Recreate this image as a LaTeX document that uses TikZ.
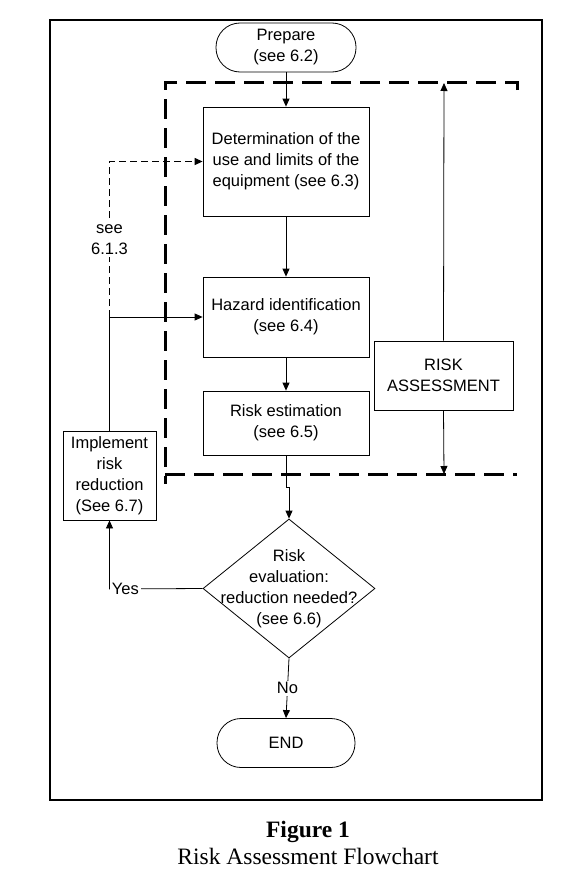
\documentclass[tikz,border=0pt]{standalone}
\usepackage{fontspec}
\setmainfont{Liberation Serif}
\setsansfont{Liberation Sans}
\usetikzlibrary{shapes.geometric,arrows.meta}

\begin{document}
\begin{tikzpicture}[x=1pt,y=-1pt,line width=0.8pt,
  >={Triangle[length=8pt,width=7pt]},
  txt/.style={align=center,inner sep=0pt,font=\sffamily\fontsize{16.5}{21}\selectfont},
  box/.style={txt,draw,line width=0.8pt},
  pill/.style={box,rounded corners=24pt,minimum width=140,minimum height=49},
  bigdash/.style={line width=3pt,dash pattern=on 20pt off 9pt},
  smalldash/.style={line width=1.2pt,dash pattern=on 7pt off 4pt}]
  \useasboundingbox (0,0) rectangle (575,878);
  % Rahmen
  \draw[line width=2.6pt] (50,20) rectangle (542,800);
  % Risikobeurteilung (gestrichelt)
  \draw[bigdash] (517,90) -- (517,82) -- (165,82) -- (165,484);
  \draw[bigdash] (165,474) -- (517,474);
  % Knoten
  \node[pill] (prep) at (286,47.5) {Prepare\\(see 6.2)};
  \node[box,minimum width=166,minimum height=109] (det) at (286,161.5)
    {Determination of the\\use and limits of the\\equipment (see 6.3)};
  \node[box,minimum width=166,minimum height=80] (haz) at (286,317)
    {Hazard identification\\(see 6.4)};
  \node[box,minimum width=166,minimum height=64] (est) at (286,423)
    {Risk estimation\\(see 6.5)};
  \node[diamond,draw,minimum width=172,minimum height=139,inner sep=0pt] (eval) at (289,588.5) {};
  \node[txt] (evaltxt) at (289,589) {Risk\\evaluation:\\reduction needed?\\(see 6.6)};
  \node[pill,minimum width=138] (end) at (286,743) {END};
  \node[box,minimum width=93,minimum height=89] (impl) at (109.5,475.5)
    {Implement\\risk\\reduction\\(See 6.7)};
  \node[box,minimum width=139,minimum height=69] (ra) at (443.5,375.5)
    {RISK\\ASSESSMENT};
  % Hilfspunkte
  \coordinate (top) at (444,83);
  \coordinate (bot) at (444,474);
  \coordinate (yes) at (109.5,589);
  \coordinate (jog) at (286,487);
  \coordinate (jog') at (289,487);
  % Verbindungen
  \draw[->] (prep) -- (det);
  \draw[->] (det) -- (haz);
  \draw[->] (haz) -- (est);
  \draw[->] (est.south) -- (jog) -- (jog') -- (eval.north);
  \draw[->] (eval.south) -- node[txt,fill=white,inner sep=2pt] (no) {No} (end.north);
  \draw[->] (eval.west) -- (yes) node[txt,right,fill=white,inner xsep=2pt,inner ysep=3pt] (yeslbl) {Yes} -- (impl.south);
  \draw[->] (impl.north) |- (haz.west);
  \draw[->,smalldash] (impl.north |- haz.west) |- node[pos=0.25,txt,fill=white,inner sep=3pt] (see) {see\\6.1.3} (det.west);
  \draw[->] (ra.north) -- (top);
  \draw[->] (ra.south) -- (bot);
  % Beschriftung
  \node[anchor=base,font=\bfseries\fontsize{23.5}{28}\selectfont] (fig) at (308,837) {Figure 1};
  \node[anchor=base,font=\fontsize{23.5}{28}\selectfont] (cap) at (308,864) {Risk Assessment Flowchart};
\end{tikzpicture}
\end{document}
